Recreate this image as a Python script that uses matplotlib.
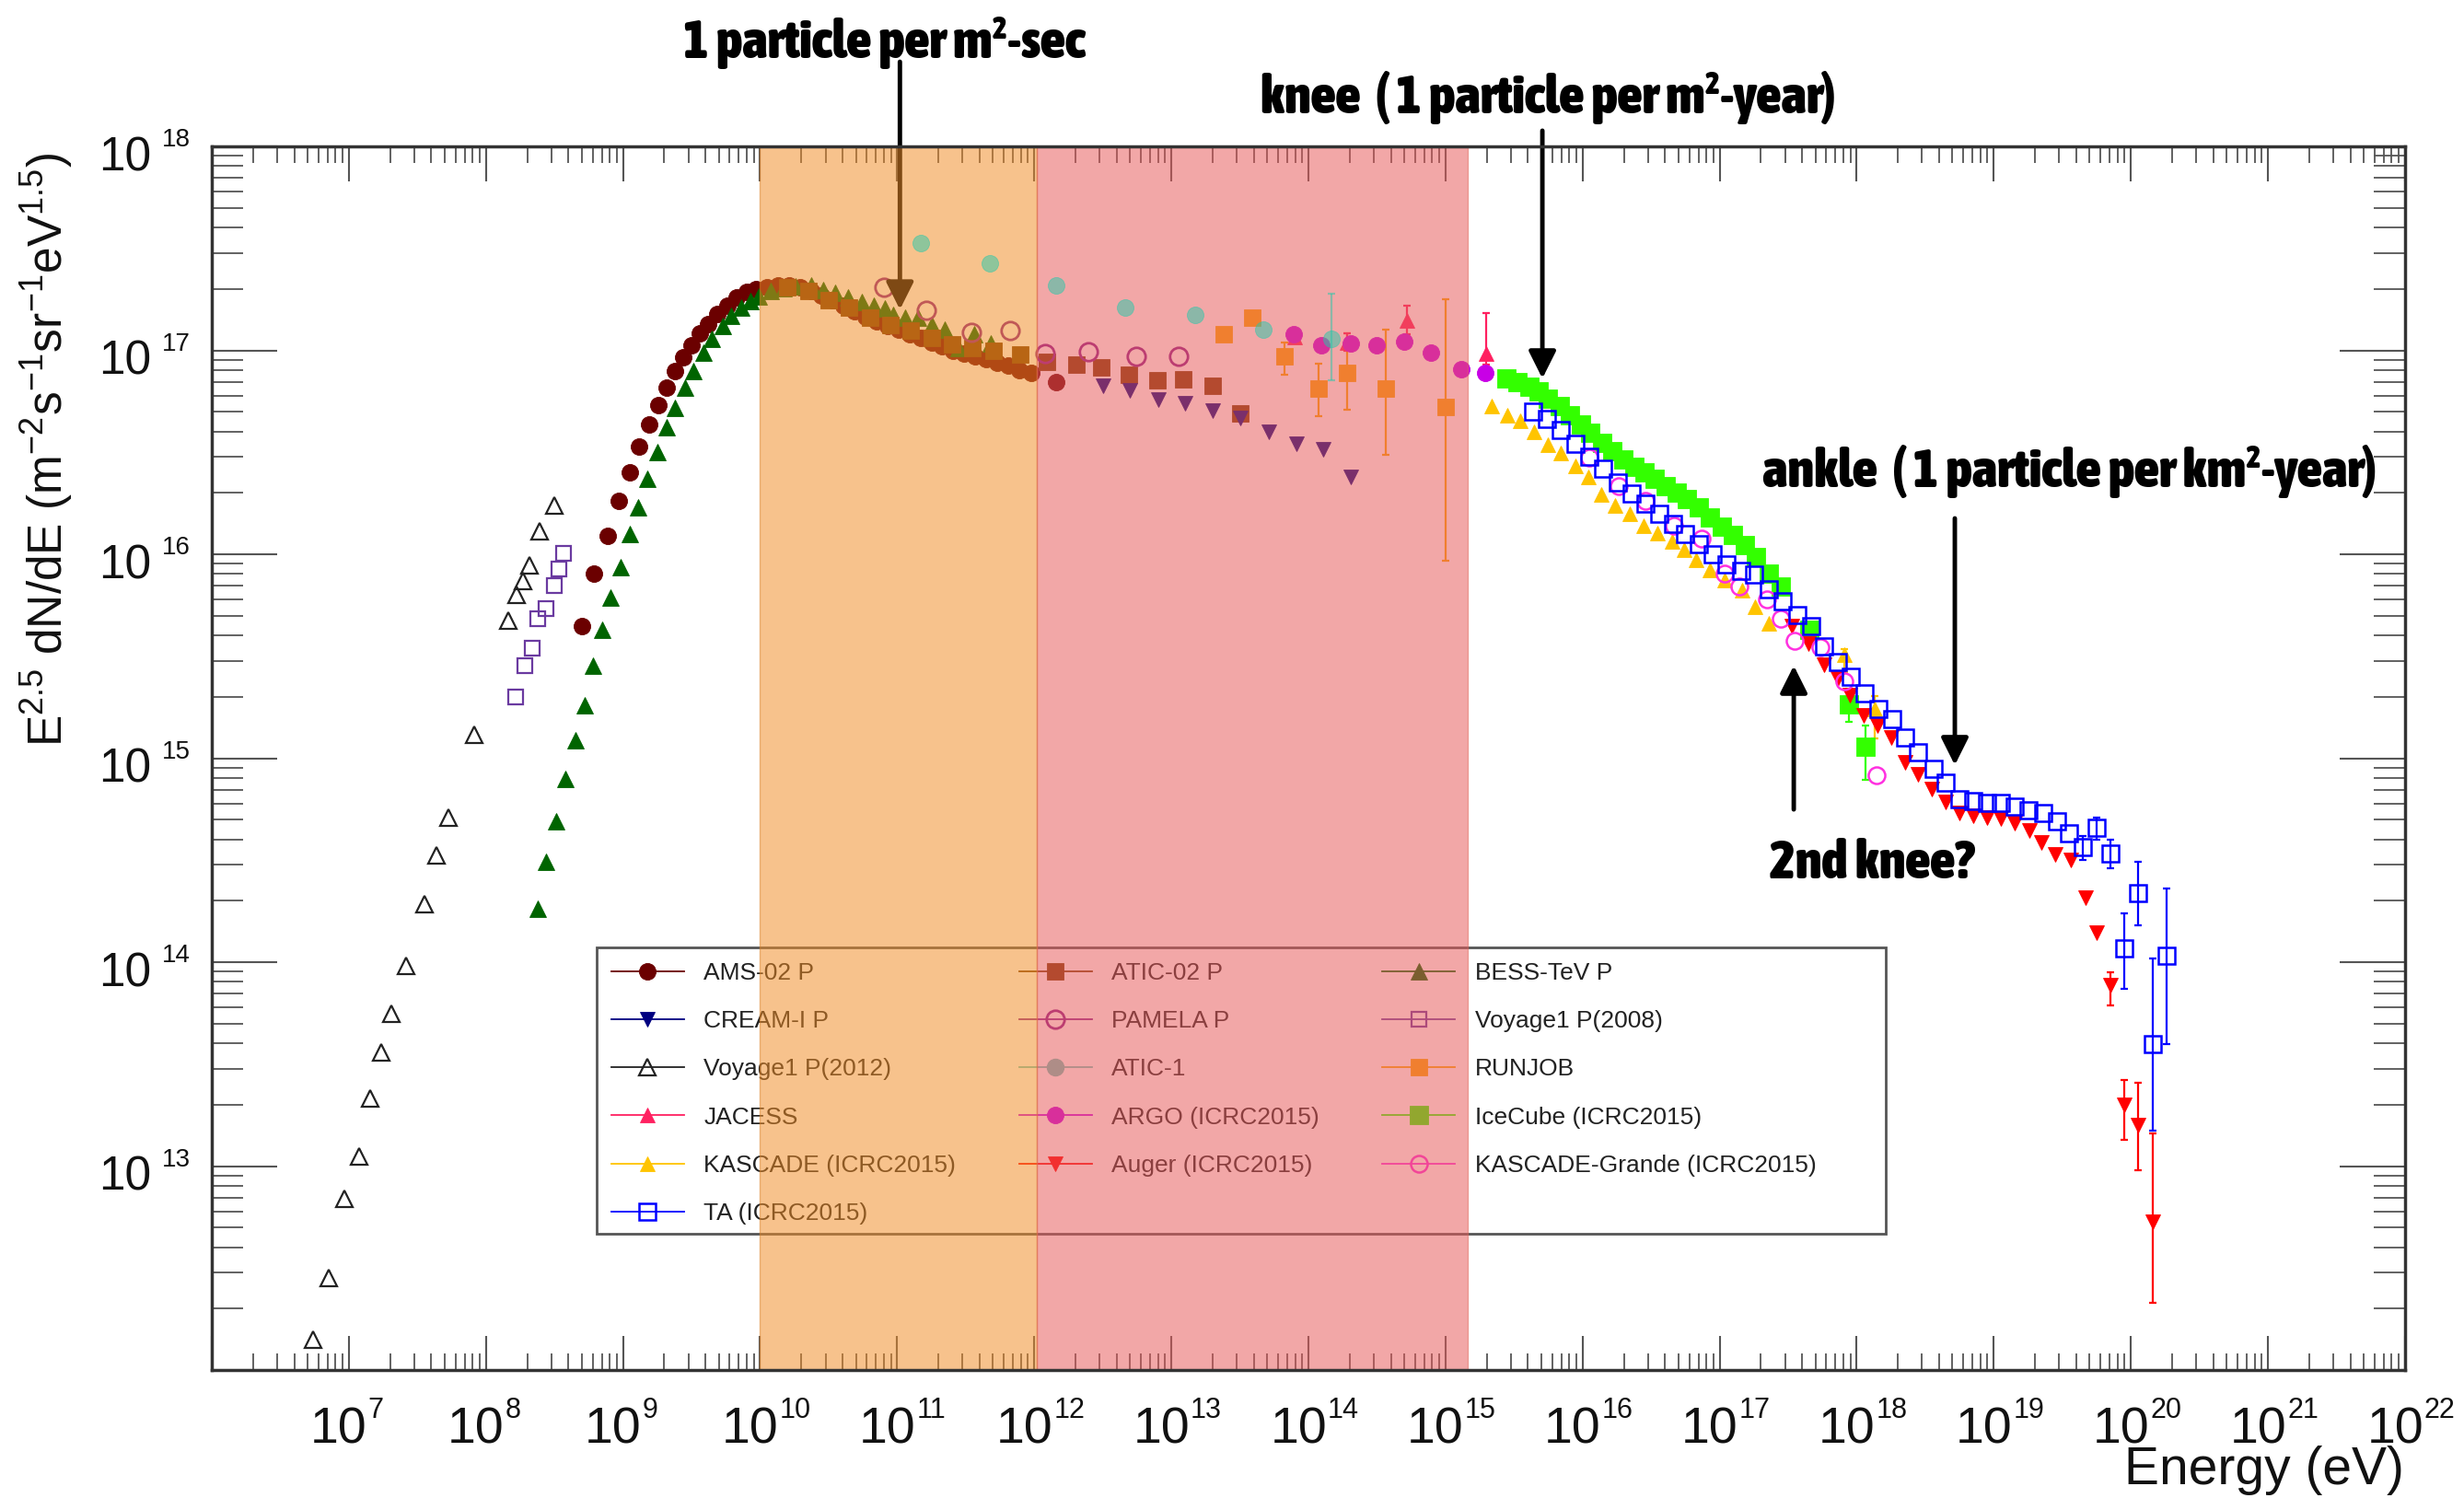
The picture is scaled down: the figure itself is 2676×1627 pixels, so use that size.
import numpy as np
import matplotlib
matplotlib.use("Agg")
import matplotlib.pyplot as plt
from matplotlib.lines import Line2D
from matplotlib.patches import Rectangle
from matplotlib.ticker import LogLocator, NullFormatter
from matplotlib import font_manager
from matplotlib.font_manager import FontProperties

plt.rcParams['font.family'] = ['Liberation Sans', 'DejaVu Sans']
plt.rcParams['mathtext.fontset'] = 'custom'
plt.rcParams['mathtext.rm'] = 'Liberation Sans'
plt.rcParams['mathtext.it'] = 'Liberation Sans:italic'
plt.rcParams['mathtext.bf'] = 'Liberation Sans:bold'


def _weight(f):
    try:
        return int(f.weight)
    except (TypeError, ValueError):
        return font_manager.weight_dict.get(str(f.weight), 400)


def condensed_bold_font():
    """Return FontProperties for a narrow bold face if one is installed."""
    found = []
    for f in font_manager.fontManager.ttflist:
        name = f.name.lower()
        stretch = str(f.stretch).lower()
        narrow = ('narrow' in name or 'condensed' in name or 'condensed' in stretch)
        if narrow and _weight(f) >= 600 and f.style == 'normal':
            rank = 0 if 'liberation' in name else (2 if 'dejavu' in name else 1)
            found.append((rank, f.fname))
    if found:
        found.sort()
        return FontProperties(fname=found[0][1])
    return FontProperties(family=['Liberation Sans', 'DejaVu Sans'], weight='bold')


# ---------------------------------------------------------------------------
# Measurements: log10(E / eV) and log10(E^2.5 dN/dE)
# ---------------------------------------------------------------------------
ams_logE = [8.70, 8.79, 8.89, 8.97, 9.05, 9.12, 9.19, 9.26, 9.32, 9.38, 9.44, 9.50,
            9.56, 9.62, 9.69, 9.76, 9.83, 9.90, 9.97, 10.05, 10.13, 10.21, 10.29, 10.37,
            10.45, 10.53, 10.61, 10.69, 10.77, 10.85, 10.93, 11.01, 11.09, 11.17, 11.25,
            11.33, 11.41, 11.49, 11.57, 11.65, 11.73, 11.81, 11.89, 11.98, 12.16]
ams_logF = [15.65, 15.905, 16.09, 16.26, 16.40, 16.53, 16.635, 16.73, 16.815, 16.90, 16.965, 17.025,
            17.085, 17.13, 17.18, 17.22, 17.26, 17.285, 17.30, 17.31, 17.32, 17.32, 17.31, 17.29,
            17.27, 17.245, 17.22, 17.19, 17.165, 17.14, 17.12, 17.10, 17.08, 17.06, 17.04,
            17.02, 17.00, 16.985, 16.97, 16.955, 16.94, 16.925, 16.905, 16.89, 16.845]

bess_logE = [8.38, 8.44, 8.51, 8.58, 8.65, 8.72, 8.78, 8.85, 8.91, 8.98, 9.05, 9.11, 9.18,
             9.25, 9.32, 9.38, 9.45, 9.51, 9.59, 9.65, 9.73, 9.79, 9.86, 9.93, 9.99, 10.08,
             10.17, 10.26, 10.37, 10.46, 10.55, 10.64, 10.74, 10.83, 10.91, 10.97, 11.06,
             11.15, 11.25, 11.35, 11.45, 11.56, 11.68]
bess_logF = [14.26, 14.49, 14.69, 14.90, 15.09, 15.26, 15.455, 15.63, 15.79, 15.935, 16.10, 16.23, 16.37,
             16.50, 16.625, 16.72, 16.815, 16.90, 16.99, 17.055, 17.12, 17.17, 17.21, 17.24, 17.265, 17.29,
             17.305, 17.315, 17.318, 17.296, 17.281, 17.258, 17.236, 17.22, 17.205, 17.175, 17.16,
             17.16, 17.123, 17.10, 17.01, 17.078, 17.033]

atic02_logE = [10.20, 10.35, 10.50, 10.65, 10.80, 10.95, 11.10, 11.25, 11.40, 11.55, 11.70, 11.90,
               12.09, 12.31, 12.49, 12.69, 12.90, 13.09, 13.30, 13.50]
atic02_logF = [17.31, 17.29, 17.245, 17.21, 17.16, 17.125, 17.095, 17.06, 17.03, 17.01, 17.00, 16.98,
               16.945, 16.93, 16.915, 16.88, 16.855, 16.86, 16.825, 16.69]

cream_logE = [12.50, 12.70, 12.905, 13.10, 13.305, 13.505, 13.71, 13.91, 14.11, 14.31]
cream_logF = [16.828, 16.802, 16.757, 16.742, 16.704, 16.667, 16.599, 16.542, 16.516, 16.381]

pamela_logE = [10.905, 11.213, 11.541, 11.825, 12.076, 12.398, 12.744, 13.052]
pamela_logF = [17.309, 17.198, 17.088, 17.096, 16.983, 16.993, 16.971, 16.972]

voy2008_logE = [8.216, 8.283, 8.339, 8.375, 8.440, 8.500, 8.535, 8.564]
voy2008_logF = [15.300, 15.455, 15.541, 15.682, 15.732, 15.847, 15.926, 16.005]

voy2012_logE = [6.737, 6.856, 6.964, 7.072, 7.156, 7.233, 7.312, 7.420, 7.552, 7.641, 7.725,
                7.912, 8.166, 8.224, 8.272, 8.315, 8.392, 8.500]
voy2012_logF = [12.147, 12.450, 12.838, 13.047, 13.331, 13.558, 13.749, 13.983, 14.285, 14.523, 14.710,
                15.113, 15.674, 15.800, 15.869, 15.944, 16.114, 16.239]

atic1_logE = [11.174, 11.678, 12.158, 12.665, 13.173, 13.670, 14.166]
atic1_logF = [17.525, 17.427, 17.318, 17.211, 17.175, 17.103, 17.058]
atic1_err = [None, None, None, None, None, None, (16.855, 17.276)]

runjob_logE = [13.385, 13.590, 13.824, 14.072, 14.280, 14.565, 15.001]
runjob_logF = [17.078, 17.159, 16.972, 16.814, 16.889, 16.814, 16.724]
runjob_err = [None, None, (16.882, 17.04), (16.679, 16.934), (16.709, 17.085),
              (16.486, 17.10), (15.97, 17.25)]

jacess_logE = [13.90, 14.28, 14.72, 15.30]
jacess_logF = [17.065, 17.04, 17.145, 16.985]
jacess_err = [(17.04, 17.09), (17.00, 17.085), (17.08, 17.22), (16.93, 17.185)]

argo_logE = [13.894, 14.095, 14.312, 14.498, 14.699, 14.896, 15.113, 15.291]
argo_logF = [17.078, 17.025, 17.032, 17.025, 17.044, 16.990, 16.907, 16.889]

icecube_logE = [15.442, 15.527, 15.613, 15.682, 15.750, 15.835, 15.911, 15.990, 16.058, 16.144,
                16.220, 16.298, 16.377, 16.453, 16.528, 16.607, 16.686, 16.761, 16.847, 16.932,
                17.018, 17.097, 17.182, 17.268, 17.361, 17.446, 17.652, 17.944, 18.063]
icecube_logF = [16.863, 16.846, 16.822, 16.798, 16.765, 16.725, 16.684, 16.636, 16.595, 16.547,
                16.506, 16.465, 16.428, 16.401, 16.368, 16.336, 16.303, 16.271, 16.230, 16.182,
                16.136, 16.093, 16.044, 15.987, 15.906, 15.841, 15.631, 15.266, 15.055]
icecube_err = [None] * 27 + [(15.177, 15.339), (14.893, 15.161)]

kascade_logE = [15.339, 15.449, 15.545, 15.647, 15.750, 15.843, 15.946, 16.042, 16.137, 16.240,
                16.343, 16.446, 16.549, 16.652, 16.744, 16.830, 16.926, 17.035, 17.166, 17.258,
                17.361, 17.909, 18.132]
kascade_logF = [16.725, 16.684, 16.655, 16.600, 16.539, 16.498, 16.433, 16.380, 16.295, 16.239,
                16.198, 16.141, 16.104, 16.064, 16.023, 15.971, 15.922, 15.874, 15.825, 15.744,
                15.663, 15.509, 15.242]
kascade_err = [None] * 21 + [(15.42, 15.534), (15.096, 15.307)]

kgrande_logE = [16.048, 16.263, 16.459, 16.665, 16.870, 17.035, 17.144, 17.343, 17.446, 17.549,
                17.737, 17.909, 18.148]
kgrande_logF = [16.474, 16.336, 16.263, 16.141, 16.076, 15.906, 15.841, 15.777, 15.683, 15.574,
                15.542, 15.379, 14.917]

auger_logE = [17.53, 17.65, 17.76, 17.86, 17.95, 18.05, 18.15, 18.25, 18.35, 18.45, 18.55, 18.65,
              18.75, 18.85, 18.95, 19.05, 19.15, 19.26, 19.35, 19.45, 19.56, 19.67, 19.75, 19.85,
              19.95, 20.05, 20.16]
auger_logF = [15.65, 15.56, 15.46, 15.39, 15.31, 15.21, 15.16, 15.10, 14.98, 14.92, 14.85, 14.785,
              14.73, 14.72, 14.71, 14.705, 14.68, 14.645, 14.585, 14.53, 14.50, 14.315, 14.145, 13.885,
              13.30, 13.20, 12.725]
auger_err = [None] * 23 + [(13.79, 13.95), (13.13, 13.42), (12.98, 13.41), (12.33, 13.16)]

ta_logE = [15.64, 15.74, 15.84, 15.95, 16.05, 16.15, 16.26, 16.36, 16.46, 16.56, 16.66, 16.75,
           16.85, 16.95, 17.05, 17.16, 17.25, 17.36, 17.46, 17.57, 17.67, 17.76, 17.86, 17.96,
           18.06, 18.16, 18.26, 18.35, 18.45, 18.56, 18.65, 18.75, 18.85, 18.95, 19.05, 19.15,
           19.25, 19.36, 19.46, 19.55, 19.65, 19.75, 19.85, 19.95, 20.05, 20.16, 20.26]
ta_logF = [16.70, 16.665, 16.61, 16.54, 16.48, 16.42, 16.35, 16.30, 16.25, 16.20, 16.15, 16.10,
           16.05, 16.00, 15.95, 15.92, 15.90, 15.83, 15.77, 15.70, 15.65, 15.55, 15.47, 15.40,
           15.32, 15.24, 15.19, 15.10, 15.03, 14.95, 14.88, 14.80, 14.79, 14.78, 14.78, 14.765,
           14.745, 14.73, 14.69, 14.63, 14.565, 14.66, 14.535, 14.07, 14.34, 13.60, 14.03]
ta_err = [None] * 40 + [(14.50, 14.62), (14.60, 14.71), (14.46, 14.60), (13.87, 14.24),
                        (14.18, 14.49), (13.175, 14.02), (13.60, 14.36)]

# Shaded energy ranges (log10 E)
band_low = (10.0, 12.02)
band_high = (12.02, 15.16)

x_decades = list(range(7, 23))
y_decades = list(range(13, 19))

# ---------------------------------------------------------------------------
fig = plt.figure(figsize=(26.76, 16.27), dpi=100)
ax = fig.add_axes([0.08595, 0.08543, 0.8901, 0.81684])
ax.set_xscale('log')
ax.set_yscale('log')
ax.set_xlim(1e6, 1e22)
ax.set_ylim(1e12, 1e18)

series = [
    dict(label='AMS-02 P', E=ams_logE, F=ams_logF, c='#6b0000', m='o', ms=13, fill=True),
    dict(label='BESS-TeV P', E=bess_logE, F=bess_logF, c='#006400', m='^', ms=13, fill=True),
    dict(label='ATIC-02 P', E=atic02_logE, F=atic02_logF, c='#7a3a00', m='s', ms=13, fill=True),
    dict(label='CREAM-I P', E=cream_logE, F=cream_logF, c='#000080', m='v', ms=11, fill=True),
    dict(label='PAMELA P', E=pamela_logE, F=pamela_logF, c='#8c1e8c', m='o', ms=14, fill=False, mew=2.0),
    dict(label='Voyage1 P(2008)', E=voy2008_logE, F=voy2008_logF, c='#6a3aa0', m='s', ms=12, fill=False, mew=1.6),
    dict(label='Voyage1 P(2012)', E=voy2012_logE, F=voy2012_logF, c='#222222', m='^', ms=13, fill=False, mew=1.6),
    dict(label='RUNJOB', E=runjob_logE, F=runjob_logF, c='#faaa00', m='s', ms=13, fill=True, err=runjob_err),
    dict(label='JACESS', E=jacess_logE, F=jacess_logF, c='#ff2060', m='^', ms=12, fill=True, err=jacess_err),
    dict(label='ARGO (ICRC2015)', E=argo_logE, F=argo_logF, c='#c800e6', m='o', ms=13, fill=True),
    dict(label='IceCube (ICRC2015)', E=icecube_logE, F=icecube_logF, c='#33ff00', m='s', ms=14, fill=True, err=icecube_err),
    dict(label='KASCADE (ICRC2015)', E=kascade_logE, F=kascade_logF, c='#ffc400', m='^', ms=11, fill=True, err=kascade_err),
    dict(label='Auger (ICRC2015)', E=auger_logE, F=auger_logF, c='#ff0000', m='v', ms=11, fill=True, err=auger_err),
    dict(label='KASCADE-Grande (ICRC2015)', E=kgrande_logE, F=kgrande_logF, c='#ff30e0', m='o', ms=13, fill=False, mew=1.8),
    dict(label='TA (ICRC2015)', E=ta_logE, F=ta_logF, c='#0000ff', m='s', ms=13, fill=False, mew=1.8, err=ta_err),
]

handles = {}


def draw_series(s, z=3, alpha=1.0):
    x = 10.0 ** np.asarray(s['E'])
    y = 10.0 ** np.asarray(s['F'])
    err = s.get('err')
    if err is not None:
        idx = [i for i, e in enumerate(err) if e is not None]
        lo = np.array([y[i] - 10.0 ** err[i][0] for i in idx])
        hi = np.array([10.0 ** err[i][1] - y[i] for i in idx])
        ax.errorbar(x[idx], y[idx], yerr=[lo, hi], fmt='none', ecolor=s['c'],
                    elinewidth=1.6, capsize=3, capthick=1.6, zorder=z - 0.1, alpha=alpha)
    mfc = s['c'] if s['fill'] else 'none'
    mew = s.get('mew', 0.6)
    ax.plot(x, y, ls='none', marker=s['m'], ms=s['ms'], mfc=mfc, mec=s['c'],
            mew=mew, zorder=z, alpha=alpha)
    handles[s['label']] = Line2D([], [], color=s['c'], lw=1.3, marker=s['m'], ms=s['ms'],
                                 mfc=mfc, mec=s['c'], mew=mew)


for s in series:
    draw_series(s)

# ATIC-1 points sit above the shading
atic1 = dict(label='ATIC-1', E=atic1_logE, F=atic1_logF, c=(38 / 255, 200 / 255, 170 / 255),
             m='o', ms=13, fill=True, err=atic1_err)
draw_series(atic1, z=7, alpha=0.5)
handles['ATIC-1'] = Line2D([], [], color='#6fc8bc', lw=1.3, marker='o', ms=13,
                           mfc='#6fc8bc', mec='#6fc8bc')

# Shaded energy ranges, laid over the data
ax.axvspan(10 ** band_low[0], 10 ** band_low[1], facecolor=(240 / 255, 140 / 255, 38 / 255),
           edgecolor=(0.85, 0.50, 0.15), lw=1.0, alpha=0.53, zorder=6)
ax.axvspan(10 ** band_high[0], 10 ** band_high[1], facecolor=(232 / 255, 89 / 255, 89 / 255),
           edgecolor=(0.88, 0.40, 0.35), lw=1.0, alpha=0.53, zorder=6)

# Legend box and entries (column-major order)
ax.add_patch(Rectangle((0.1755, 0.1114), 0.5877, 0.2340, transform=ax.transAxes,
                       facecolor='white', edgecolor='#555555', lw=2.0, zorder=4.4))
order = ['AMS-02 P', 'CREAM-I P', 'Voyage1 P(2012)', 'JACESS', 'KASCADE (ICRC2015)', 'TA (ICRC2015)',
         'ATIC-02 P', 'PAMELA P', 'ATIC-1', 'ARGO (ICRC2015)', 'Auger (ICRC2015)',
         'BESS-TeV P', 'Voyage1 P(2008)', 'RUNJOB', 'IceCube (ICRC2015)', 'KASCADE-Grande (ICRC2015)']
leg = ax.legend([handles[k] for k in order], order, ncol=3, loc='upper left',
                bbox_to_anchor=(0.1755, 0.3454), fontsize=19, frameon=False,
                handlelength=3.0, handletextpad=0.8, columnspacing=2.6, labelspacing=1.07,
                borderpad=0.6, borderaxespad=0.0, numpoints=1)
for t in leg.get_texts():
    t.set_color('#222222')
leg.set_zorder(4.5)

# Axes frame and ticks
for sp in ax.spines.values():
    sp.set_linewidth(2.5)
    sp.set_color('#333333')
    sp.set_zorder(8)

ax.xaxis.set_major_locator(LogLocator(base=10, numticks=100))
ax.xaxis.set_minor_locator(LogLocator(base=10, subs=np.arange(2, 10) * 1.0, numticks=1000))
ax.yaxis.set_major_locator(LogLocator(base=10, numticks=100))
ax.yaxis.set_minor_locator(LogLocator(base=10, subs=np.arange(2, 10) * 1.0, numticks=1000))
for axis in (ax.xaxis, ax.yaxis):
    axis.set_major_formatter(NullFormatter())
    axis.set_minor_formatter(NullFormatter())
ax.tick_params(axis='both', which='both', direction='in', top=True, right=True,
               color='#555555')
ax.tick_params(axis='x', which='major', length=27, width=1.5)
ax.tick_params(axis='x', which='minor', length=13, width=1.3)
ax.tick_params(axis='y', which='major', length=51, width=1.5)
ax.tick_params(axis='y', which='minor', length=24.5, width=1.3)

# Decade labels
for n in x_decades:
    ax.annotate('10', xy=(10.0 ** n, 0), xycoords=('data', 'axes fraction'),
                xytext=(20, -79), textcoords='offset pixels', ha='right', va='baseline',
                fontsize=40, color='#111111', annotation_clip=False)
    ax.annotate(str(n), xy=(10.0 ** n, 0), xycoords=('data', 'axes fraction'),
                xytext=(21, -52), textcoords='offset pixels', ha='left', va='baseline',
                fontsize=22, color='#111111', annotation_clip=False)
for n in y_decades:
    ax.annotate('10', xy=(0, 10.0 ** n), xycoords=('axes fraction', 'data'),
                xytext=(-66, -26), textcoords='offset pixels', ha='right', va='baseline',
                fontsize=37, color='#111111', annotation_clip=False)
    ax.annotate(str(n), xy=(0, 10.0 ** n), xycoords=('axes fraction', 'data'),
                xytext=(-54, 0), textcoords='offset pixels', ha='left', va='baseline',
                fontsize=20, color='#111111', annotation_clip=False)

fig.text(0.9757, 0.0092, 'Energy (eV)', ha='right', va='baseline', fontsize=41, color='#111111')
fig.text(0.0191, 0.6995,
         r'E$^{2.5}$ dN/dE (m$^{-2}$s$^{-1}$sr$^{-1}$eV$^{1.5}$)',
         rotation=90, ha='center', va='center', fontsize=37, color='#111111')

# Annotations
arrow_kw = dict(arrowstyle='-|>,head_length=0.9,head_width=0.45', lw=3.5, color='black',
                shrinkA=0, shrinkB=0, mutation_scale=20)
arrows = [((11.02, 17.20), (11.02, 18.415)),
          ((15.707, 16.862), (15.707, 18.077)),
          ((18.716, 14.966), (18.716, 16.176)),
          ((17.541, 15.454), (17.541, 14.749))]
for (tx, ty), (sx, sy) in arrows:
    ax.annotate('', xy=(10 ** tx, 10 ** ty), xytext=(10 ** sx, 10 ** sy),
                arrowprops=arrow_kw, annotation_clip=False, zorder=5)

note_font = condensed_bold_font()
note_font.set_size(36)
notes = [('1 particle per m\u00b2-sec', 10.905, 18.433),
         ('knee  ( 1 particle per m\u00b2-year)', 15.748, 18.163),
         ('ankle  ( 1 particle per km\u00b2-year)', 19.555, 16.330),
         ('2nd knee?', 18.111, 14.411)]
note_texts = [ax.text(10 ** lx, 10 ** ly, txt, ha='center', va='baseline',
                      fontproperties=note_font, color='black', zorder=9, clip_on=False)
              for txt, lx, ly in notes]

# Size the notes so the knee label spans about 625 px
renderer = fig.canvas.get_renderer()
width_now = note_texts[1].get_window_extent(renderer).width
size = min(46.0, 36.0 * 625.0 / width_now)
for t in note_texts:
    t.set_fontsize(size)

fig.savefig('out.png', dpi=100, facecolor='white')
